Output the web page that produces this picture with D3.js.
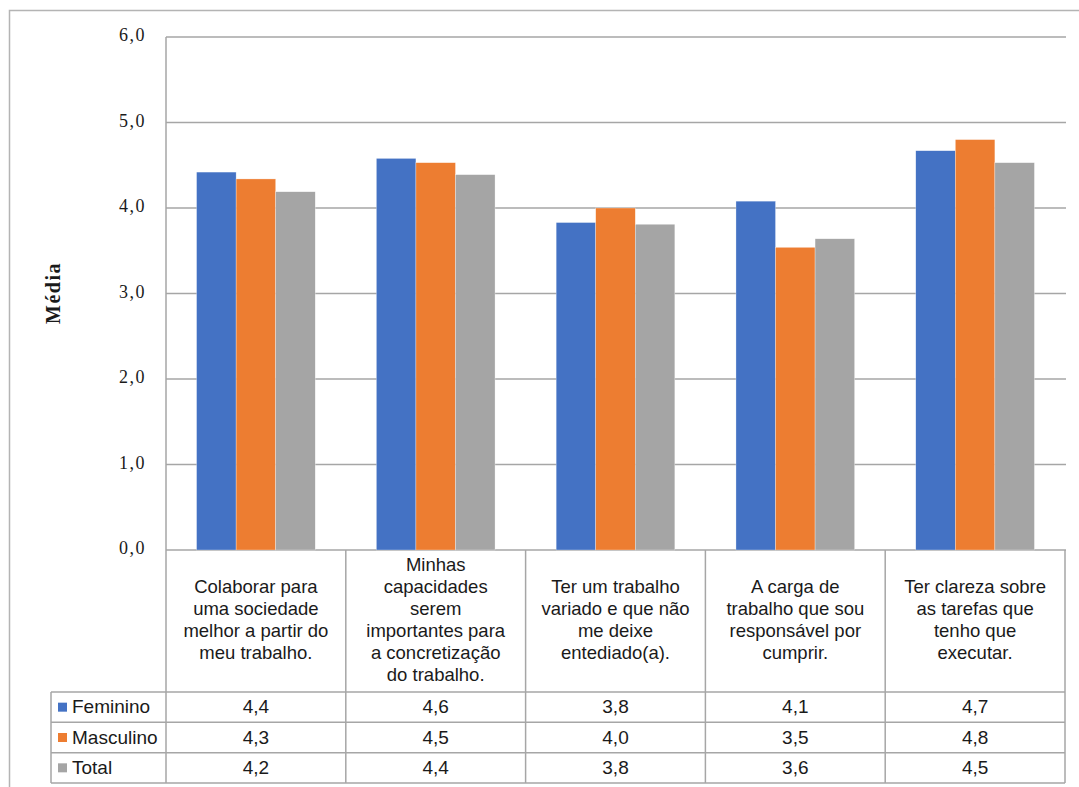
<!DOCTYPE html>
<html>
<head>
<meta charset="utf-8">
<script src="https://cdn.jsdelivr.net/npm/d3@7"></script>
<style>
  html, body { margin: 0; padding: 0; background: #fff; }
  svg { display: block; }
</style>
</head>
<body>
<script>
// Category labels, already broken into the lines shown in the table header
const categories = [
  ["Colaborar para", "uma sociedade", "melhor a partir do", "meu trabalho."],
  ["Minhas", "capacidades", "serem", "importantes para", "a concretização", "do trabalho."],
  ["Ter um trabalho", "variado e que não", "me deixe", "entediado(a)."],
  ["A carga de", "trabalho que sou", "responsável por", "cumprir."],
  ["Ter clareza sobre", "as tarefas que", "tenho que", "executar."]
];
const seriesNames = ["Feminino", "Masculino", "Total"];
const feminino  = [4.42, 4.58, 3.83, 4.08, 4.67];
const masculino = [4.34, 4.53, 4.00, 3.54, 4.80];
const total     = [4.19, 4.39, 3.81, 3.64, 4.53];
const yTicks = [0, 1, 2, 3, 4, 5, 6];
const yLabel = "Média";

const seriesValues = [feminino, masculino, total];
const colors = ["#4472C4", "#ED7D31", "#A5A5A5"];

const W = 1079, H = 787;
const plot = { left: 166, right: 1065, top: 37, bottom: 550 };
const headerBottom = 692, tableBottom = 783, legendLeft = 51;
const gridColor = "#a6a6a6";

const ptBR = d3.formatLocale({ decimal: ",", thousands: ".", grouping: [3], currency: ["R$", ""] });
const fmt = ptBR.format(".1f");

const svg = d3.select("body").append("svg").attr("width", W).attr("height", H);

// Outer chart frame (left and top edges)
svg.append("path")
  .attr("d", `M9.5,${H} V10.5 H${W}`)
  .attr("fill", "none").attr("stroke", "#b4b4b4").attr("stroke-width", 1.5);

const catIdx = categories.map((d, i) => i);
const x0 = d3.scaleBand().domain(catIdx).range([plot.left, plot.right]).paddingInner(0).paddingOuter(0);
const bw = x0.bandwidth();
const groupW = bw * 0.66;
const x1 = d3.scaleBand().domain(d3.range(seriesNames.length))
  .range([(bw - groupW) / 2, (bw + groupW) / 2]).padding(0);
const y = d3.scaleLinear().domain([0, 6]).range([plot.bottom, plot.top]);

// Horizontal gridlines
svg.append("g").selectAll("line").data(yTicks).join("line")
  .attr("x1", plot.left).attr("x2", plot.right + 1)
  .attr("y1", d => y(d)).attr("y2", d => y(d))
  .attr("stroke", gridColor).attr("stroke-width", 1.5);

// Y tick labels
svg.append("g").selectAll("text").data(yTicks).join("text")
  .attr("x", 146).attr("y", d => y(d))
  .attr("text-anchor", "end").attr("dominant-baseline", "middle")
  .attr("font-family", "'Liberation Serif', 'Times New Roman', serif")
  .attr("font-size", 18).attr("letter-spacing", 1.5)
  .attr("fill", "#1a1a1a")
  .text(d => fmt(d));

// Y axis title
svg.append("text")
  .attr("transform", `translate(60,293) rotate(-90)`)
  .attr("text-anchor", "middle")
  .attr("font-family", "'Liberation Serif', 'Times New Roman', serif")
  .attr("font-weight", "bold").attr("font-size", 20).attr("letter-spacing", 1.5)
  .attr("fill", "#1a1a1a")
  .text(yLabel);

// Bars
const groups = svg.append("g").selectAll("g").data(catIdx).join("g")
  .attr("transform", i => `translate(${x0(i)},0)`);
groups.selectAll("rect")
  .data(i => seriesValues.map((vals, s) => ({ s, v: vals[i] })))
  .join("rect")
  .attr("x", d => x1(d.s))
  .attr("y", d => y(d.v))
  .attr("width", x1.bandwidth())
  .attr("height", d => y(0) - y(d.v))
  .attr("fill", d => colors[d.s])
  .attr("stroke", "#ffffff").attr("stroke-width", 0.5).attr("stroke-opacity", 0.6);

// Data table
const rowH = (tableBottom - headerBottom) / seriesNames.length;
const tbl = svg.append("g").attr("stroke", gridColor).attr("stroke-width", 1.5);
// vertical rules
d3.range(categories.length + 1).forEach(k => {
  const xx = plot.left + k * bw;
  tbl.append("line").attr("x1", xx).attr("x2", xx)
    .attr("y1", k === 0 ? plot.top : plot.bottom).attr("y2", tableBottom);
});
tbl.append("line").attr("x1", legendLeft).attr("x2", legendLeft)
  .attr("y1", headerBottom).attr("y2", tableBottom);
// horizontal rules
d3.range(seriesNames.length + 1).forEach(r => {
  const yy = headerBottom + r * rowH;
  tbl.append("line").attr("x1", legendLeft).attr("x2", plot.right)
    .attr("y1", yy).attr("y2", yy);
});

const sans = "'Liberation Sans', Arial, sans-serif";
// Header: category labels
const headMid = (plot.bottom + headerBottom) / 2;
const lineH = 22;
const head = svg.append("g");
categories.forEach((lines, i) => {
  const cx = x0(i) + bw / 2;
  const startY = headMid - (lines.length - 1) * lineH / 2;
  const t = head.append("text")
    .attr("text-anchor", "middle")
    .attr("font-family", sans).attr("font-size", 18.5)
    .attr("fill", "#1a1a1a");
  lines.forEach((ln, j) => {
    t.append("tspan").attr("x", cx).attr("y", startY + j * lineH)
      .attr("dominant-baseline", "middle").text(ln);
  });
});

// Rows: legend key + formatted values
seriesNames.forEach((name, s) => {
  const cy = headerBottom + s * rowH + rowH / 2;
  svg.append("rect")
    .attr("x", 58).attr("y", cy - 4.5).attr("width", 9).attr("height", 9)
    .attr("fill", colors[s]);
  svg.append("text")
    .attr("x", 72).attr("y", cy + 1)
    .attr("dominant-baseline", "middle")
    .attr("font-family", sans).attr("font-size", 19)
    .attr("fill", "#1a1a1a")
    .text(name);
  seriesValues[s].forEach((v, i) => {
    svg.append("text")
      .attr("x", x0(i) + bw / 2).attr("y", cy + 1)
      .attr("text-anchor", "middle").attr("dominant-baseline", "middle")
      .attr("font-family", sans).attr("font-size", 19)
      .attr("fill", "#1a1a1a")
      .text(fmt(v));
  });
});
</script>
</body>
</html>
